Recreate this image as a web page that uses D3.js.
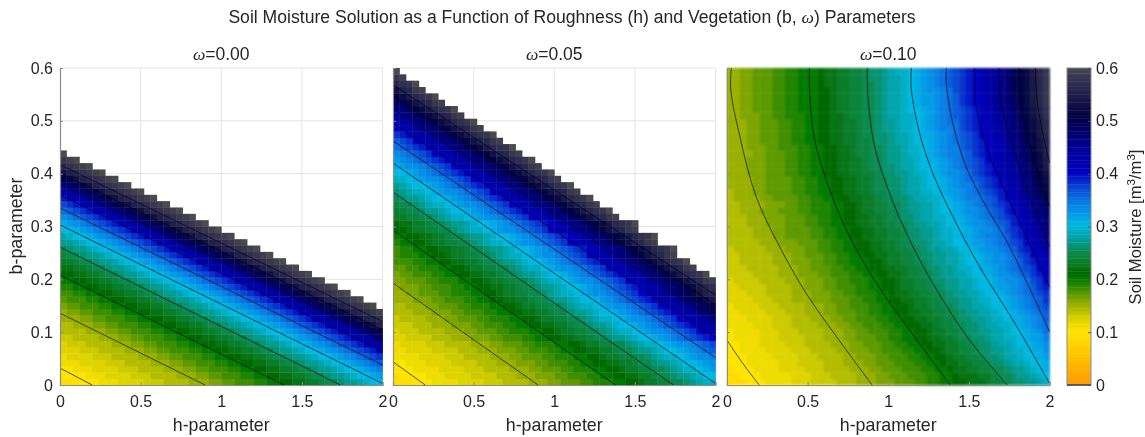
<!DOCTYPE html>
<html>
<head>
<meta charset="utf-8">
<script src="https://cdnjs.cloudflare.com/ajax/libs/d3/7.8.5/d3.min.js"></script>
<style>
  body { margin: 0; background: #fff; }
  svg { filter: blur(0.3px); }
  text { font-family: "Liberation Sans", Arial, sans-serif; fill: #262626; }
</style>
</head>
<body>
<div id="chart01"></div>
<script>
// soil moisture in hundredths of m3/m3
// one array per b row (bottom row first), cells run from h=0 to the right, short rows stop at the white area
const omega000 = [
[9,9,10,10,10,10,11,11,11,12,12,12,12,13,13,13,14,14,14,14,15,15,15,16,16,17,17,18,18,18,19,19,20,20,21,21,22,22,23,23,24,25,25,26,27,27,28,29,30,30],
[10,10,10,10,11,11,11,12,12,12,12,13,13,13,14,14,14,14,15,15,15,16,16,17,17,18,18,18,19,19,20,20,21,21,22,22,23,23,24,25,25,26,27,27,28,29,30,30,31,32],
[10,10,11,11,11,12,12,12,12,13,13,13,14,14,14,14,15,15,15,16,16,17,17,18,18,18,19,19,20,20,21,21,22,22,23,23,24,25,25,26,27,27,28,29,30,30,31,32,33,34],
[11,11,11,12,12,12,12,13,13,13,14,14,14,14,15,15,15,16,16,17,17,18,18,18,19,19,20,20,21,21,22,22,23,23,24,25,25,26,27,27,28,29,30,30,31,32,33,34,35,36],
[11,12,12,12,12,13,13,13,14,14,14,14,15,15,15,16,16,17,17,18,18,18,19,19,20,20,21,21,22,22,23,23,24,25,25,26,27,27,28,29,30,30,31,32,33,34,35,36,37,38],
[12,12,12,13,13,13,14,14,14,14,15,15,15,16,16,17,17,18,18,18,19,19,20,20,21,21,22,22,23,23,24,25,25,26,27,27,28,29,30,30,31,32,33,34,35,36,37,38,39,41],
[12,13,13,13,14,14,14,14,15,15,15,16,16,17,17,18,18,18,19,19,20,20,21,21,22,22,23,23,24,25,25,26,27,27,28,29,30,30,31,32,33,34,35,36,37,38,39,41,42,44],
[13,13,14,14,14,14,15,15,15,16,16,17,17,18,18,18,19,19,20,20,21,21,22,22,23,23,24,25,25,26,27,27,28,29,30,30,31,32,33,34,35,36,37,38,39,41,42,44,45,47],
[14,14,14,14,15,15,15,16,16,17,17,18,18,18,19,19,20,20,21,21,22,22,23,23,24,25,25,26,27,27,28,29,30,30,31,32,33,34,35,36,37,38,39,41,42,44,45,47,49,51],
[14,14,15,15,15,16,16,17,17,18,18,18,19,19,20,20,21,21,22,22,23,23,24,25,25,26,27,27,28,29,30,30,31,32,33,34,35,36,37,38,39,41,42,44,45,47,49,51,53,55],
[15,15,15,16,16,17,17,18,18,18,19,19,20,20,21,21,22,22,23,23,24,25,25,26,27,27,28,29,30,30,31,32,33,34,35,36,37,38,39,41,42,44,45,47,49,51,53,55,56,57],
[15,16,16,17,17,18,18,18,19,19,20,20,21,21,22,22,23,23,24,25,25,26,27,27,28,29,30,30,31,32,33,34,35,36,37,38,39,41,42,44,45,47,49,51,53,55,56,57,58,59],
[16,17,17,18,18,18,19,19,20,20,21,21,22,22,23,23,24,25,25,26,27,27,28,29,30,30,31,32,33,34,35,36,37,38,39,41,42,44,45,47,49,51,53,55,56,57,58,59,60],
[17,18,18,18,19,19,20,20,21,21,22,22,23,23,24,25,25,26,27,27,28,29,30,30,31,32,33,34,35,36,37,38,39,41,42,44,45,47,49,51,53,55,56,57,58,59,60],
[18,18,19,19,20,20,21,21,22,22,23,23,24,25,25,26,27,27,28,29,30,30,31,32,33,34,35,36,37,38,39,41,42,44,45,47,49,51,53,55,56,57,58,59,60],
[19,19,20,20,21,21,22,22,23,23,24,25,25,26,27,27,28,29,30,30,31,32,33,34,35,36,37,38,39,41,42,44,45,47,49,51,53,55,56,57,58,59,60],
[20,20,21,21,22,22,23,23,24,25,25,26,27,27,28,29,30,30,31,32,33,34,35,36,37,38,39,41,42,44,45,47,49,51,53,55,56,57,58,59,60],
[21,21,22,22,23,23,24,25,25,26,27,27,28,29,30,30,31,32,33,34,35,36,37,38,39,41,42,44,45,47,49,51,53,55,56,57,58,59,60],
[22,22,23,23,24,25,25,26,27,27,28,29,30,30,31,32,33,34,35,36,37,38,39,41,42,44,45,47,49,51,53,55,56,57,58,59,60],
[23,23,24,25,25,26,27,27,28,29,30,30,31,32,33,34,35,36,37,38,39,41,42,44,45,47,49,51,53,55,56,57,58,59,60],
[24,25,25,26,27,27,28,29,30,30,31,32,33,34,35,36,37,38,39,41,42,44,45,47,49,51,53,55,56,57,58,59,60],
[25,26,27,27,28,29,30,30,31,32,33,34,35,36,37,38,39,41,42,44,45,47,49,51,53,55,56,57,58,59,60],
[27,27,28,29,30,30,31,32,33,34,35,36,37,38,39,41,42,44,45,47,49,51,53,55,56,57,58,59,60],
[28,29,30,30,31,32,33,34,35,36,37,38,39,41,42,44,45,47,49,51,53,55,56,57,58,59,60],
[30,30,31,32,33,34,35,36,37,38,39,41,42,44,45,47,49,51,53,55,56,57,58,59,60],
[31,32,33,34,35,36,37,38,39,41,42,44,45,47,49,51,53,55,56,57,58,59,60],
[33,34,35,36,37,38,39,41,42,44,45,47,49,51,53,55,56,57,58,59,60],
[35,36,37,38,39,41,42,44,45,47,49,51,53,55,56,57,58,59,60],
[37,38,39,41,42,44,45,47,49,51,53,55,56,57,58,59,60],
[39,41,42,44,45,47,49,51,53,55,56,57,58,59,60],
[42,44,45,47,49,51,53,55,56,57,58,59,60],
[45,47,49,51,53,55,56,57,58,59,60],
[49,51,53,55,56,57,58,59,60],
[53,55,56,57,58,59,60],
[56,57,58,59,60],
[58,59,60],
[60]
];

const omega005 = [
[9,9,9,10,10,10,11,11,11,11,12,12,12,12,13,13,13,14,14,14,14,15,15,15,16,16,17,17,17,18,18,19,19,19,20,20,21,21,22,23,23,24,24,25,25,26,27,28,29,29],
[9,10,10,10,10,11,11,11,12,12,12,12,13,13,13,13,14,14,14,15,15,15,16,16,16,17,17,18,18,18,19,19,20,20,21,21,22,22,23,23,24,25,25,26,27,27,28,29,30,30],
[10,10,10,11,11,11,11,12,12,12,12,13,13,13,14,14,14,14,15,15,15,16,16,17,17,17,18,18,19,19,19,20,20,21,21,22,23,23,24,24,25,25,26,27,28,29,29,30,31,32],
[10,10,11,11,11,12,12,12,12,13,13,13,13,14,14,14,15,15,15,16,16,16,17,17,18,18,18,19,19,20,20,21,21,22,22,23,23,24,25,25,26,27,27,28,29,30,30,31,32,33],
[11,11,11,11,12,12,12,12,13,13,13,14,14,14,14,15,15,15,16,16,17,17,17,18,18,19,19,19,20,20,21,21,22,23,23,24,24,25,25,26,27,28,29,29,30,31,32,33,33,34],
[11,11,12,12,12,12,13,13,13,13,14,14,14,15,15,15,16,16,16,17,17,18,18,18,19,19,20,20,21,21,22,22,23,23,24,25,25,26,27,27,28,29,30,30,31,32,33,34,35,36],
[11,12,12,12,12,13,13,13,14,14,14,14,15,15,15,16,16,17,17,17,18,18,19,19,19,20,20,21,21,22,23,23,24,24,25,25,26,27,28,29,29,30,31,32,33,33,34,35,36,37],
[12,12,13,13,13,13,14,14,14,15,15,15,16,16,16,17,17,18,18,18,19,19,20,20,21,21,22,22,23,23,24,25,25,26,27,27,28,29,30,30,31,32,33,34,35,36,37,38,39,40],
[12,13,13,13,14,14,14,14,15,15,15,16,16,17,17,17,18,18,19,19,19,20,20,21,21,22,23,23,24,24,25,25,26,27,28,29,29,30,31,32,33,33,34,35,36,37,38,40,41,42],
[13,13,13,14,14,14,15,15,15,16,16,16,17,17,18,18,18,19,19,20,20,21,21,22,22,23,23,24,25,25,26,27,27,28,29,30,30,31,32,33,34,35,36,37,38,39,40,42,43,44],
[13,14,14,14,14,15,15,15,16,16,17,17,17,18,18,19,19,19,20,20,21,21,22,23,23,24,24,25,25,26,27,28,29,29,30,31,32,33,33,34,35,36,37,38,40,41,42,44,45,46],
[14,14,14,15,15,15,16,16,16,17,17,18,18,18,19,19,20,20,21,21,22,22,23,23,24,25,25,26,27,27,28,29,30,30,31,32,33,34,35,36,37,38,39,40,42,43,44,46,47,49],
[14,14,15,15,15,16,16,17,17,17,18,18,19,19,19,20,20,21,21,22,23,23,24,24,25,25,26,27,28,29,29,30,31,32,33,33,34,35,36,37,38,40,41,42,44,45,46,48,49,51],
[15,15,15,16,16,16,17,17,18,18,18,19,19,20,20,21,21,22,22,23,23,24,25,25,26,27,27,28,29,30,30,31,32,33,34,35,36,37,38,39,40,42,43,44,46,47,49,50,52,54],
[15,15,16,16,17,17,17,18,18,19,19,19,20,20,21,21,22,23,23,24,24,25,25,26,27,28,29,29,30,31,32,33,33,34,35,36,37,38,40,41,42,44,45,46,48,49,51,53,55,56],
[15,16,16,16,17,17,18,18,18,19,19,20,20,21,21,22,22,23,23,24,25,25,26,27,27,28,29,30,30,31,32,33,34,35,36,37,38,39,40,42,43,44,46,47,49,50,52,54,56,57],
[16,16,17,17,17,18,18,19,19,19,20,20,21,21,22,23,23,24,24,25,25,26,27,28,29,29,30,31,32,33,33,34,35,36,37,38,40,41,42,44,45,46,48,49,51,53,55,56,58,59],
[16,17,17,18,18,18,19,19,20,20,21,21,22,22,23,23,24,25,25,26,27,27,28,29,30,30,31,32,33,34,35,36,37,38,39,40,42,43,44,46,47,49,50,52,54,56,57,58,60],
[17,17,18,18,19,19,19,20,20,21,21,22,23,23,24,24,25,25,26,27,28,29,29,30,31,32,33,33,34,35,36,37,38,40,41,42,44,45,46,48,49,51,53,55,56,58,59],
[18,18,18,19,19,20,20,21,21,22,22,23,23,24,25,25,26,27,27,28,29,30,30,31,32,33,34,35,36,37,38,39,40,42,43,44,46,47,49,50,52,54,56,57,58,60],
[18,19,19,19,20,20,21,21,22,23,23,24,24,25,25,26,27,28,29,29,30,31,32,33,33,34,35,36,37,38,40,41,42,44,45,46,48,49,51,53,55,56,58,59],
[18,19,19,20,20,21,21,22,22,23,23,24,25,25,26,27,27,28,29,30,30,31,32,33,34,35,36,37,38,39,40,42,43,44,46,47,49,50,52,54,56,57,58,60],
[19,20,20,21,21,22,23,23,24,24,25,25,26,27,28,29,29,30,31,32,33,33,34,35,36,37,38,40,41,42,44,45,46,48,49,51,53,55,56,58,59],
[20,20,21,21,22,22,23,23,24,25,25,26,27,27,28,29,30,30,31,32,33,34,35,36,37,38,39,40,42,43,44,46,47,49,50,52,54,56,57,58,60],
[21,21,22,23,23,24,24,25,25,26,27,28,29,29,30,31,32,33,33,34,35,36,37,38,40,41,42,44,45,46,48,49,51,53,55,56,58,59],
[21,22,22,23,23,24,25,25,26,27,27,28,29,30,30,31,32,33,34,35,36,37,38,39,40,42,43,44,46,47,49,50,52,54,56,57,58,60],
[23,23,24,24,25,25,26,27,28,29,29,30,31,32,33,33,34,35,36,37,38,40,41,42,44,45,46,48,49,51,53,55,56,58,59],
[23,24,25,25,26,27,27,28,29,30,30,31,32,33,34,35,36,37,38,39,40,42,43,44,46,47,49,50,52,54,56,57,58,60],
[24,25,25,26,27,28,29,29,30,31,32,33,33,34,35,36,37,38,40,41,42,44,45,46,48,49,51,53,55,56,58,59],
[25,26,27,27,28,29,30,30,31,32,33,34,35,36,37,38,39,40,42,43,44,46,47,49,50,52,54,56,57,58,60],
[26,27,28,29,29,30,31,32,33,33,34,35,36,37,38,40,41,42,44,45,46,48,49,51,53,55,56,58,59],
[27,28,29,30,30,31,32,33,34,35,36,37,38,39,40,42,43,44,46,47,49,50,52,54,56,57,58,60],
[29,29,30,31,32,33,33,34,35,36,37,38,40,41,42,44,45,46,48,49,51,53,55,56,58,59],
[30,30,31,32,33,34,35,36,37,38,39,40,42,43,44,46,47,49,50,52,54,56,57,58,60],
[31,32,33,33,34,35,36,37,38,40,41,42,44,45,46,48,49,51,53,55,56,58,59],
[32,33,34,35,36,37,38,39,40,42,43,44,46,47,49,50,52,54,56,57,58,60],
[33,34,35,36,37,38,40,41,42,44,45,46,48,49,51,53,55,56,58,59],
[35,36,37,38,39,40,42,43,44,46,47,49,50,52,54,56,57,58,60],
[36,37,38,40,41,42,44,45,46,48,49,51,53,55,56,58,59],
[38,39,40,42,43,44,46,47,49,50,52,54,56,57,58,60],
[40,41,42,44,45,46,48,49,51,53,55,56,58,59],
[42,43,44,46,47,49,50,52,54,56,57,58,60],
[44,45,46,48,49,51,53,55,56,58,59],
[46,47,49,50,52,54,56,57,58,60],
[48,49,51,53,55,56,58,59],
[50,52,54,56,57,58,60],
[53,55,56,58,59],
[56,57,58,60],
[58,59],
[60]
];

const omega010 = [
[9,9,9,10,10,10,11,11,11,11,12,12,12,13,13,13,13,14,14,14,15,15,15,16,16,16,17,17,17,18,18,19,19,20,20,21,21,22,22,22,23,24,24,25,26,26,27,27,28,29],
[9,9,10,10,10,11,11,11,11,11,12,12,12,13,13,13,14,14,14,14,15,15,15,16,16,17,17,17,18,18,18,19,19,20,20,21,22,22,22,23,23,24,25,25,26,27,27,28,29,30],
[9,10,10,10,11,11,11,11,12,12,12,12,13,13,13,14,14,14,14,15,15,15,16,16,17,17,17,18,18,18,19,19,20,20,21,22,22,23,23,24,24,25,25,26,27,27,28,29,30,31],
[10,10,10,11,11,11,11,11,12,12,12,13,13,13,13,14,14,14,15,15,15,16,16,17,17,17,18,18,18,19,19,20,20,21,22,22,23,23,24,24,25,26,26,27,28,28,29,30,30,31],
[10,10,10,11,11,11,11,12,12,12,12,13,13,13,14,14,14,14,15,15,16,16,16,17,17,18,18,18,19,19,20,20,21,21,22,23,23,24,24,25,26,26,27,28,28,29,30,30,31,32],
[10,10,11,11,11,11,12,12,12,12,13,13,13,14,14,14,14,15,15,16,16,16,17,17,18,18,18,19,19,20,20,21,21,22,23,23,24,24,25,26,26,27,27,28,29,29,30,31,31,33],
[10,10,11,11,11,12,12,12,12,13,13,13,14,14,14,14,15,15,15,16,16,17,17,17,18,18,19,19,20,20,21,21,22,22,23,23,24,25,25,26,26,27,28,28,29,30,30,31,32,33],
[10,11,11,11,11,12,12,12,13,13,13,13,14,14,14,15,15,15,16,16,17,17,17,18,18,19,19,20,20,21,21,22,22,23,23,24,25,25,26,26,27,28,28,29,29,30,31,32,32,34],
[10,11,11,11,11,12,12,12,13,13,13,14,14,14,14,15,15,15,16,16,17,17,18,18,18,19,19,20,20,21,21,22,23,23,24,24,25,26,26,27,27,28,28,29,30,30,31,32,33,35],
[11,11,11,11,12,12,12,13,13,13,14,14,14,14,15,15,15,16,16,17,17,18,18,18,19,19,20,20,21,21,22,22,23,24,24,25,25,26,26,27,28,28,29,29,30,31,32,33,34,35],
[11,11,11,12,12,12,12,13,13,13,14,14,14,15,15,15,16,16,17,17,18,18,18,19,19,20,20,21,21,22,22,23,23,24,24,25,26,26,27,27,28,29,29,30,31,31,32,33,34,36],
[11,11,12,12,12,12,13,13,13,14,14,14,15,15,15,16,16,17,17,17,18,18,19,19,20,20,21,21,22,22,23,23,24,24,25,25,26,27,27,28,28,29,30,30,31,32,33,34,35,36],
[11,12,12,12,12,13,13,13,14,14,14,14,15,15,15,16,16,17,17,18,18,18,19,19,20,20,21,21,22,23,23,24,24,25,25,26,27,27,28,28,29,30,30,31,32,33,34,35,36,37],
[12,12,12,12,13,13,13,14,14,14,15,15,15,16,16,16,17,17,17,18,18,19,19,20,20,21,21,22,22,23,23,24,24,25,26,26,27,27,28,29,29,30,30,31,32,33,34,35,36,38],
[12,12,12,13,13,13,14,14,14,14,15,15,15,16,16,16,17,17,18,18,19,19,19,20,20,21,22,22,23,23,24,24,25,25,26,27,27,28,28,29,30,30,31,32,33,34,35,36,37,38],
[12,12,13,13,13,13,14,14,14,14,15,15,16,16,16,17,17,18,18,18,19,19,20,20,21,21,22,23,23,24,24,25,25,26,27,27,28,28,29,30,30,31,32,32,33,34,35,36,38,39],
[12,13,13,13,13,14,14,14,14,15,15,15,16,16,16,17,17,18,18,19,19,19,20,20,21,21,22,23,23,24,24,25,26,26,27,27,28,28,29,30,30,31,32,33,33,34,35,37,38,40],
[13,13,13,13,14,14,14,14,15,15,15,16,16,16,17,17,18,18,18,19,19,20,20,21,21,22,22,23,24,24,25,25,26,27,27,28,28,29,30,30,31,32,33,33,34,35,36,38,39,41],
[13,13,13,14,14,14,14,14,15,15,15,16,16,17,17,17,18,18,19,19,20,20,21,21,22,22,23,23,24,24,25,26,26,27,27,28,29,29,30,31,31,32,33,34,35,36,37,38,40,41],
[13,13,14,14,14,14,14,15,15,15,16,16,16,17,17,18,18,19,19,20,20,20,21,21,22,23,23,24,24,25,25,26,27,27,28,28,29,30,30,31,32,33,33,34,35,36,38,39,40,42],
[13,13,14,14,14,14,14,15,15,15,16,16,17,17,17,18,18,19,19,20,20,21,21,22,22,23,23,24,24,25,26,26,27,27,28,28,29,30,30,31,32,33,33,34,35,37,38,40,41,43],
[13,14,14,14,14,14,15,15,15,16,16,16,17,17,18,18,19,19,20,20,21,21,22,22,23,23,24,24,25,25,26,27,27,28,28,29,30,30,31,32,33,33,34,35,36,38,39,41,42,44],
[14,14,14,14,14,15,15,15,16,16,16,17,17,17,18,18,19,19,20,20,21,21,22,22,23,23,24,25,25,26,26,27,28,28,29,30,30,31,32,32,33,34,35,36,37,38,40,42,43,45],
[14,14,14,14,15,15,15,16,16,17,17,17,17,18,18,19,19,20,20,21,21,22,22,23,23,24,24,25,26,26,27,27,28,29,29,30,31,31,32,33,34,34,35,36,38,39,41,42,44,46],
[14,14,14,14,15,15,15,16,16,17,17,17,17,18,18,19,19,20,20,21,21,22,22,23,23,24,24,25,26,26,27,27,28,29,29,30,30,31,32,33,33,34,35,37,38,39,41,43,44,46],
[14,14,14,15,15,15,16,16,16,17,17,17,18,18,19,19,20,20,21,21,22,22,23,23,24,24,25,25,26,27,27,28,28,29,30,30,31,32,33,33,34,35,36,37,39,40,42,43,45,47],
[14,14,14,15,15,15,16,16,16,17,17,17,18,18,19,19,20,20,21,21,22,22,23,23,24,25,25,26,26,27,28,28,29,29,30,31,31,32,33,34,35,36,37,38,39,41,43,44,46,47],
[14,14,15,15,15,16,16,16,17,17,17,18,18,19,19,19,20,20,21,21,22,23,23,24,24,25,25,26,27,27,28,28,29,30,30,31,32,33,33,34,35,36,37,39,40,42,43,45,47,48],
[14,14,15,15,15,15,16,16,16,17,17,18,18,19,19,19,20,20,21,21,22,23,23,24,24,25,25,26,27,27,28,28,29,30,30,31,32,33,34,35,36,37,38,39,41,42,44,45,47,49],
[14,15,15,15,15,16,16,17,17,17,17,18,18,19,19,20,20,21,21,22,22,23,23,24,25,25,26,26,27,28,28,29,29,30,31,32,33,34,34,35,36,37,39,40,41,43,44,46,48,50],
[14,15,15,15,16,16,17,17,17,17,18,18,19,19,20,20,21,21,22,22,23,23,24,25,25,26,26,27,28,28,29,29,30,31,32,32,33,34,35,36,37,38,39,41,42,44,45,47,49,51],
[15,15,15,15,16,16,17,17,17,17,18,18,19,19,20,20,21,21,22,22,23,23,24,25,25,26,26,27,28,28,29,30,30,31,32,33,34,34,35,37,38,39,40,42,43,44,46,48,50,51],
[15,15,15,15,16,16,17,17,17,17,18,18,19,19,20,20,21,21,22,22,23,23,24,25,25,26,26,27,28,28,29,30,30,31,32,33,34,35,36,37,38,39,41,42,43,45,46,48,50,52],
[15,15,15,16,16,16,17,17,17,18,18,19,19,20,20,21,21,22,22,23,23,24,24,25,26,26,27,27,28,29,29,30,31,32,33,33,34,35,37,38,39,40,41,43,44,45,47,49,51,53],
[15,15,15,16,16,16,17,17,17,18,18,19,19,20,20,21,21,22,22,23,23,24,25,25,26,26,27,28,28,29,30,30,31,32,33,34,35,36,37,38,39,40,42,43,44,46,47,49,51,54],
[15,15,15,16,16,16,17,17,17,18,18,19,19,20,20,21,21,22,22,23,23,24,25,25,26,27,27,28,28,29,30,31,31,32,33,34,35,36,37,38,40,41,42,43,45,46,48,50,52,54],
[15,15,15,15,16,16,17,17,17,18,18,19,19,20,20,21,21,22,22,23,24,24,25,25,26,27,27,28,29,29,30,31,32,33,34,34,35,36,38,39,40,41,42,44,45,47,48,50,52,55],
[15,15,15,16,16,16,17,17,18,18,18,19,19,20,20,21,21,22,22,23,24,24,25,25,26,27,27,28,29,29,30,31,32,33,34,34,36,37,38,39,40,41,42,44,45,47,49,50,53,55],
[15,15,15,16,16,17,17,17,18,18,19,19,20,20,21,21,22,22,23,23,24,24,25,26,26,27,28,28,29,30,30,31,32,33,34,35,36,37,38,39,40,41,43,44,46,47,49,51,53,55],
[15,15,15,16,16,17,17,17,18,18,19,19,20,20,21,21,22,22,23,23,24,25,25,26,26,27,28,28,29,30,31,31,32,33,34,35,36,37,38,40,41,42,43,45,46,48,50,51,54,56],
[15,15,15,16,16,17,17,17,18,18,19,19,20,20,21,21,22,22,23,23,24,25,25,26,27,27,28,29,29,30,31,32,33,34,34,35,37,38,39,40,41,42,44,45,47,48,50,52,54,56],
[15,15,15,16,16,17,17,17,18,18,19,19,20,20,21,21,22,22,23,23,24,25,25,26,27,27,28,29,29,30,31,32,33,34,35,35,37,38,39,40,41,43,44,45,47,48,50,52,54,56],
[15,15,16,16,16,17,17,18,18,19,19,19,20,20,21,21,22,22,23,24,24,25,25,26,27,28,28,29,29,30,31,32,33,34,35,36,37,38,39,40,42,43,44,46,47,49,51,53,55,57],
[15,15,16,16,17,17,17,18,18,19,19,20,20,20,21,21,22,23,23,24,24,25,25,26,27,28,28,29,30,30,31,32,33,34,35,36,37,38,39,41,42,43,45,46,48,49,51,53,55,57],
[15,15,16,16,17,17,17,18,18,19,19,20,20,20,21,21,22,23,23,24,24,25,25,26,27,28,28,29,30,31,32,32,33,34,35,36,38,39,40,41,42,44,45,47,48,50,52,54,56,58],
[15,15,16,16,17,17,17,18,18,19,19,20,20,20,21,21,22,23,23,24,24,25,25,26,27,28,28,29,30,31,32,32,33,34,35,36,38,39,40,41,42,44,45,47,48,50,52,54,56,58],
[15,15,16,16,17,17,17,18,18,19,19,20,20,20,21,21,22,23,23,24,24,25,25,26,27,28,28,29,30,31,32,33,33,34,35,37,38,39,40,41,43,44,45,47,49,50,52,54,56,58],
[15,15,16,16,17,17,17,18,18,19,19,20,20,20,21,22,22,23,23,24,24,25,25,26,27,28,28,29,30,31,32,33,34,35,36,37,38,39,40,41,43,44,45,47,49,50,52,54,56,58],
[15,15,16,16,17,17,17,18,18,19,19,20,20,20,21,22,22,23,23,24,24,25,26,26,27,28,28,29,30,31,32,33,34,35,36,37,38,39,40,41,43,44,45,47,49,50,52,54,56,58],
[15,15,16,16,17,17,17,18,18,19,19,20,20,20,21,22,22,23,23,24,24,25,26,26,27,28,29,29,30,31,32,33,34,35,36,37,38,39,40,42,43,44,46,47,49,50,52,54,56,58]
];

// contour lines, [h, b] pairs, one list per level (0.10 to 0.55)
const contours000 = [
  [[0, 0.032], [0.2, 0]],
  [[0, 0.136], [0.9, 0]],
  [[0, 0.208], [1.39, 0]],
  [[0, 0.261], [1.74, 0]],
  [[0, 0.303], [2, 0.003]],
  [[0, 0.335], [2, 0.038]],
  [[0, 0.36], [2, 0.063]],
  [[0, 0.381], [2, 0.085]],
  [[0, 0.401], [2, 0.104]],
  [[0, 0.417], [2, 0.12]]
];
const contours005 = [
  [[0, 0.044], [0.2, 0]],
  [[0, 0.193], [0.9, 0]],
  [[0, 0.293], [1.38, 0]],
  [[0, 0.365], [1.74, 0]],
  [[0, 0.42], [2, 0.003]],
  [[0, 0.462], [2, 0.052]],
  [[0, 0.496], [2, 0.09]],
  [[0, 0.523], [2, 0.123]],
  [[0, 0.546], [2, 0.152]],
  [[0, 0.568], [2, 0.17]]
];
const contours010 = [
  [[0, 0.085], [0.1, 0.04], [0.2, 0]],
  [[0.027, 0.6], [0.023, 0.56], [0.08, 0.47], [0.18, 0.357], [0.326, 0.262], [0.49, 0.174], [0.678, 0.092], [0.9, 0]],
  [[0.512, 0.6], [0.512, 0.56], [0.543, 0.465], [0.636, 0.37], [0.76, 0.281], [0.926, 0.193], [1.132, 0.104], [1.384, 0]],
  [[0.87, 0.6], [0.874, 0.546], [0.915, 0.452], [1.008, 0.363], [1.132, 0.275], [1.3, 0.18], [1.504, 0.085], [1.738, 0]],
  [[1.143, 0.6], [1.143, 0.56], [1.194, 0.477], [1.277, 0.4], [1.4, 0.319], [1.566, 0.224], [1.773, 0.123], [2, 0.003]],
  [[1.36, 0.6], [1.36, 0.57], [1.4, 0.496], [1.483, 0.413], [1.607, 0.338], [1.752, 0.262], [2, 0.101]],
  [[1.535, 0.6], [1.545, 0.527], [1.607, 0.452], [1.71, 0.376], [1.855, 0.281], [2, 0.185]],
  [[1.686, 0.6], [1.7, 0.534], [1.773, 0.452], [1.876, 0.357], [2, 0.262]],
  [[1.808, 0.6], [1.824, 0.527], [1.897, 0.433], [2, 0.338]],
  [[1.913, 0.6], [1.928, 0.527], [2, 0.42]]
];

const omegaLabels = ["0.00", "0.05", "0.10"];
const hTicks = [0, 0.5, 1, 1.5, 2];
const bTicks = [0, 0.1, 0.2, 0.3, 0.4, 0.5, 0.6];

// colormap stops from the colorbar
const colorStops = [0, 0.05, 0.1, 0.125, 0.15, 0.175, 0.2, 0.21, 0.225, 0.25, 0.275, 0.3, 0.33, 0.35, 0.375, 0.4, 0.45, 0.5, 0.52, 0.55, 0.58, 0.6];
const colorValues = ["#ff9a00", "#ffc000", "#ffe400", "#d8d000", "#9ab000", "#4e9400", "#007a00", "#006800", "#0a7a1e", "#0b8a50", "#00a0a0", "#00b8e0", "#0590e8", "#0a70e0", "#0840d0", "#0000c0", "#000090", "#000048", "#0a0a44", "#20204c", "#363650", "#4a4a4a"];

var width = 1145;
var height = 437;
var margin = { top: 68, bottom: 52 };
var panelLefts = [60, 393, 727];
var panelWidth = 322.5;
var cellBlur = ["0.6px", "0.6px", "1.1px"];
var plotBottom = height - margin.bottom;

var color = d3.scaleLinear().domain(colorStops).range(colorValues);

var svg = d3.select("#chart01").append("svg").attr("width", width).attr("height", height);

svg
	.append("text")
	.attr("x", 572)
	.attr("y", 23)
	.attr("text-anchor", "middle")
	.attr("font-size", "17.6px")
	.call(omegaText, "Soil Moisture Solution as a Function of Roughness (h) and Vegetation (b, ", ") Parameters");

var y = d3.scaleLinear().domain([0, 0.6]).range([plotBottom, margin.top]);

function omegaText(sel, before, after) {
	sel.append("tspan").text(before);
	sel.append("tspan").attr("font-family", "Liberation Serif").attr("font-style", "italic").text("\u03c9");
	sel.append("tspan").text(after);
}

function heatPanel(left, rows, lines, label, index) {
	var x = d3.scaleLinear().domain([0, 2]).range([left, left + panelWidth]);
	var xCell = d3.scaleBand().domain(d3.range(50)).range([left, left + panelWidth]);
	var yCell = d3.scaleBand().domain(d3.range(50)).range([plotBottom, margin.top]);
	var g = svg.append("g");

	// grid under the cells
	g.selectAll("line.gridx")
		.data(hTicks.slice(1))
		.enter()
		.append("line")
		.attr("x1", (d) => x(d))
		.attr("x2", (d) => x(d))
		.attr("y1", margin.top)
		.attr("y2", plotBottom)
		.attr("stroke", "#e4e4e4");
	g.selectAll("line.gridy")
		.data(bTicks.slice(1))
		.enter()
		.append("line")
		.attr("x1", left)
		.attr("x2", left + panelWidth)
		.attr("y1", (d) => y(d))
		.attr("y2", (d) => y(d))
		.attr("stroke", "#e4e4e4");

	// cells are softened a little, the reference is a blurred photo of the figure
	var cells = g.append("g").style("filter", `blur(${cellBlur[index]})`);
	rows.forEach((row, j) => {
		cells
			.append("g")
			.selectAll("rect")
			.data(row)
			.enter()
			.append("rect")
			.attr("x", (d, i) => xCell(i))
			.attr("y", yCell(j))
			.attr("width", xCell.bandwidth() + 0.4)
			.attr("height", yCell.bandwidth() + 0.4)
			.attr("fill", (d) => color(d / 100));
	});

	// Draw the contours
	var line = d3
		.line()
		.x((d) => x(d[0]))
		.y((d) => y(d[1]))
		.curve(index == 2 ? d3.curveCatmullRom : d3.curveLinear);
	g.selectAll("path.contour")
		.data(lines)
		.enter()
		.append("path")
		.attr("class", "contour")
		.attr("d", line)
		.attr("fill", "none")
		.attr("stroke", "#000")
		.attr("stroke-opacity", 0.8)
		.attr("stroke-width", 0.8);

	var xAxis = g
		.append("g")
		.attr("transform", `translate(0,${plotBottom})`)
		.call(d3.axisBottom(x).tickValues(hTicks).tickFormat(d3.format("~g")).tickSize(-3).tickPadding(11))
		.attr("font-size", "16px");
	var yAxis = g
		.append("g")
		.attr("transform", `translate(${left},0)`)
		.call(d3.axisLeft(y).tickValues(bTicks).tickFormat(index == 0 ? d3.format("~g") : "").tickSize(-3).tickPadding(7))
		.attr("font-size", "16px");
	[xAxis, yAxis].forEach((a) => {
		a.attr("font-family", null);
		a.selectAll("path").attr("stroke", "#8c8c8c").attr("stroke-width", 1.2);
		a.selectAll("line").attr("stroke", "#8c8c8c");
		a.selectAll("text").attr("fill", "#262626");
	});

	g.append("text")
		.attr("x", x(1))
		.attr("y", 60)
		.attr("text-anchor", "middle")
		.attr("font-size", "17.5px")
		.call(omegaText, "", "=" + label);

	g.append("text")
		.attr("x", x(1))
		.attr("y", 431)
		.attr("text-anchor", "middle")
		.attr("font-size", "17.8px")
		.text("h-parameter");
}

heatPanel(panelLefts[0], omega000, contours000, omegaLabels[0], 0);
heatPanel(panelLefts[1], omega005, contours005, omegaLabels[1], 1);
heatPanel(panelLefts[2], omega010, contours010, omegaLabels[2], 2);

// Y axis label:
svg
	.append("text")
	.attr("text-anchor", "middle")
	.attr("transform", "rotate(-90)")
	.attr("x", -226)
	.attr("y", 22)
	.attr("font-size", "17.8px")
	.text("b-parameter");

// colorbar
var cbY = d3.scaleLinear().domain([0, 0.6]).range([plotBottom, margin.top]);
var barSteps = d3.range(0, 0.6, 0.005);
var bar = svg.append("g");
bar.selectAll("rect")
	.data(barSteps)
	.enter()
	.append("rect")
	.attr("x", 1067)
	.attr("width", 24)
	.attr("y", (d) => cbY(d + 0.005))
	.attr("height", (d) => cbY(d) - cbY(d + 0.005) + 0.4)
	.attr("fill", (d) => color(d));
bar.append("rect")
	.attr("x", 1067)
	.attr("y", margin.top)
	.attr("width", 24)
	.attr("height", plotBottom - margin.top)
	.attr("fill", "none")
	.attr("stroke", "#8c8c8c");
bar.append("line")
	.attr("x1", 1067)
	.attr("x2", 1091)
	.attr("y1", plotBottom)
	.attr("y2", plotBottom)
	.attr("stroke", "#444")
	.attr("stroke-width", 1.5);
var cbAxis = bar
	.append("g")
	.attr("transform", "translate(1091,0)")
	.call(d3.axisRight(cbY).tickValues(bTicks).tickFormat(d3.format("~g")).tickSize(-3).tickPadding(5))
	.attr("font-size", "16px")
	.attr("font-family", null);
cbAxis.select("path").remove();
cbAxis.selectAll("line").attr("stroke", "#555");
cbAxis.selectAll("text").attr("fill", "#262626");

var cbLabel = svg
	.append("text")
	.attr("text-anchor", "middle")
	.attr("transform", "rotate(-90)")
	.attr("x", -227)
	.attr("y", 1141)
	.attr("font-size", "16.6px");
cbLabel.append("tspan").text("Soil Moisture [m");
cbLabel.append("tspan").attr("font-size", "11.5px").attr("dy", "-6").text("3");
cbLabel.append("tspan").attr("dy", "6").text("/m");
cbLabel.append("tspan").attr("font-size", "11.5px").attr("dy", "-6").text("3");
cbLabel.append("tspan").attr("dy", "6").text("]");
</script>
</body>
</html>
